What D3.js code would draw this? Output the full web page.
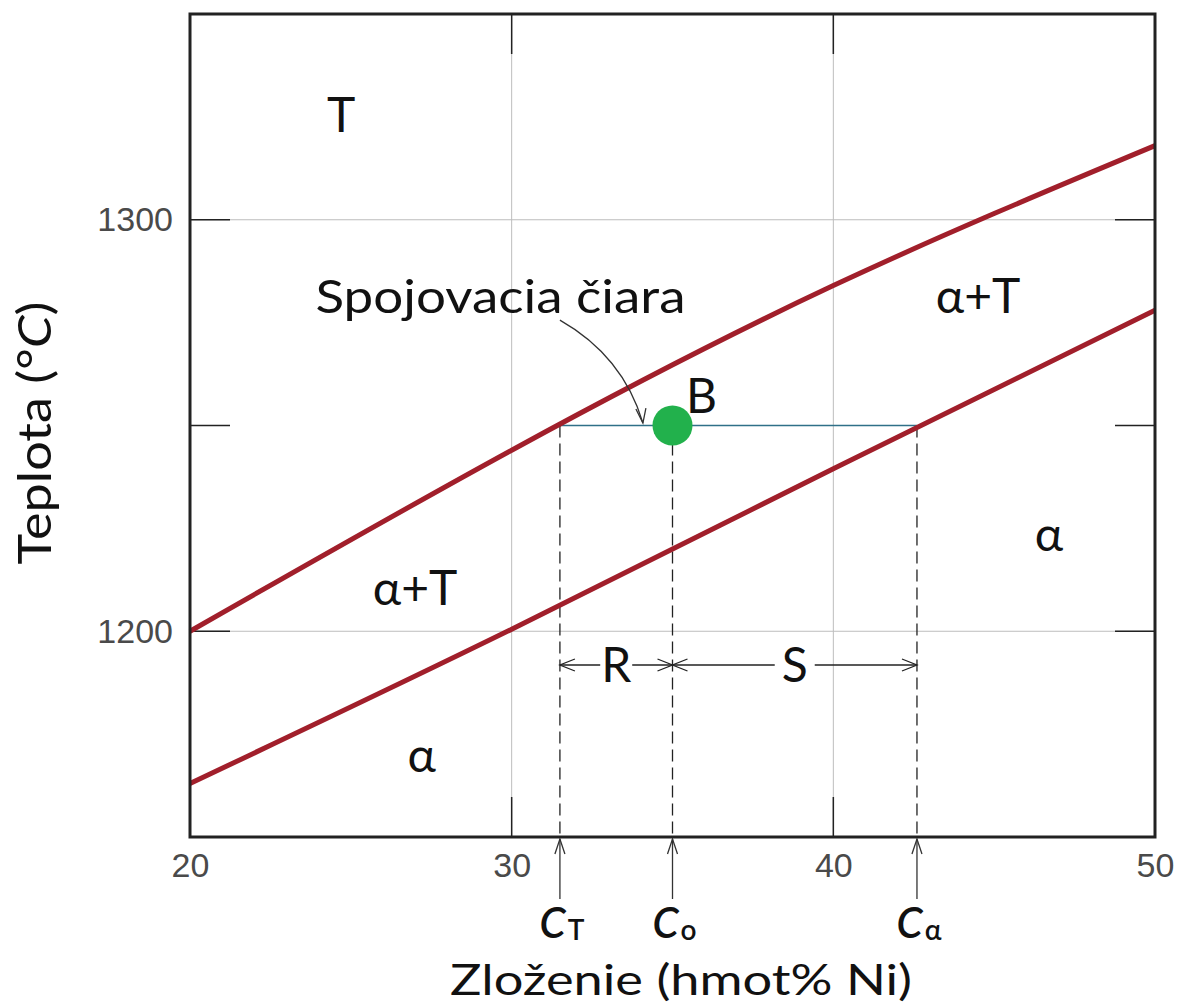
<!DOCTYPE html>
<html>
<head>
<meta charset="utf-8">
<script src="https://d3js.org/d3.v7.min.js"></script>
<style>
  body { margin: 0; background: #fff; }
  svg { display: block; }
  .lbl { font-family: "Lato", "Noto Sans", sans-serif; fill: #111; }
  .tick text { font-family: "Liberation Sans", Arial, sans-serif; fill: #4a4a4a; }
</style>
</head>
<body>
<div id="chart"></div>
<script>
  // DATA
  const compPoints = [20, 30, 40, 50];
  const liquidus = [1200, 1244, 1284, 1318];
  const solidus = [1163, 1200.5, 1239.5, 1278];

  const xTicks = [20, 30, 40, 50];
  const yTicks = [1200, 1300];
  const innerYTicks = [1200, 1250, 1300];
  const innerXTicks = [30, 40];

  const tieTemp = 1250;
  const cT = 31.5, c0 = 35, cA = 42.6;
  const rsTemp = 1191.8; // level of the R / S arrows

  const regions = [
    { text: "T", c: 24.7, t: 1321.3 },
    { text: "α+T", c: 44.5, t: 1277.3 },
    { text: "α+T", c: 27.0, t: 1206.4 },
    { text: "α", c: 27.2, t: 1165.8 },
    { text: "α", c: 46.7, t: 1219.5 },
    { text: "B", c: 35.9, t: 1253 }
  ];

  const markers = [
    { c: cT, main: "C", sub: "T" },
    { c: c0, main: "C", sub: "o" },
    { c: cA, main: "C", sub: "α" }
  ];

  // curved pointer from the tie-line caption: start, control, end
  const pointer = [[31.5, 1275.6], [33.46, 1266.9], [34.08, 1250.6]];

  // LAYOUT
  const W = 1182, H = 1005;
  const margin = { top: 14, right: 27, bottom: 168, left: 190 };
  const width = W - margin.left - margin.right;
  const height = H - margin.top - margin.bottom;

  const svg = d3.select("#chart").append("svg")
    .attr("width", W).attr("height", H);

  const g = svg.append("g")
    .attr("transform", "translate(" + margin.left + "," + margin.top + ")");

  const x = d3.scaleLinear().domain([20, 50]).range([0, width]);
  const y = d3.scaleLinear().domain([1150, 1350]).range([height, 0]);

  // GRID
  g.selectAll(".gx").data(innerXTicks).enter().append("line")
    .attr("x1", d => x(d)).attr("x2", d => x(d))
    .attr("y1", 0).attr("y2", height)
    .attr("stroke", "#bdbdbd").attr("stroke-width", 1);
  g.selectAll(".gy").data(yTicks).enter().append("line")
    .attr("x1", 0).attr("x2", width)
    .attr("y1", d => y(d)).attr("y2", d => y(d))
    .attr("stroke", "#bdbdbd").attr("stroke-width", 1);

  // inner black ticks on all four sides
  const tl = 40;
  innerYTicks.forEach(t => {
    g.append("line").attr("x1", 0).attr("x2", tl).attr("y1", y(t)).attr("y2", y(t))
      .attr("stroke", "#222").attr("stroke-width", 1.5);
    g.append("line").attr("x1", width - tl).attr("x2", width).attr("y1", y(t)).attr("y2", y(t))
      .attr("stroke", "#222").attr("stroke-width", 1.5);
  });
  innerXTicks.forEach(c => {
    g.append("line").attr("x1", x(c)).attr("x2", x(c)).attr("y1", 0).attr("y2", tl)
      .attr("stroke", "#222").attr("stroke-width", 1.5);
    g.append("line").attr("x1", x(c)).attr("x2", x(c)).attr("y1", height - tl).attr("y2", height)
      .attr("stroke", "#222").attr("stroke-width", 1.5);
  });

  // AXES (labels only)
  const xAxis = g.append("g")
    .attr("transform", "translate(0," + height + ")")
    .call(d3.axisBottom(x).tickValues(xTicks).tickFormat(d3.format("d")).tickSize(0).tickPadding(16));
  const yAxis = g.append("g")
    .call(d3.axisLeft(y).tickValues(yTicks).tickFormat(d3.format("d")).tickSize(0).tickPadding(17));
  [xAxis, yAxis].forEach(a => {
    a.select(".domain").remove();
    a.selectAll("text").style("font-size", "34px");
  });

  // TIE LINE + DASHED DROPS
  g.append("line")
    .attr("x1", x(cT)).attr("x2", x(cA))
    .attr("y1", y(tieTemp)).attr("y2", y(tieTemp))
    .attr("stroke", "#2f7088").attr("stroke-width", 1.5);

  g.selectAll(".drop").data(markers).enter().append("line")
    .attr("x1", d => x(d.c)).attr("x2", d => x(d.c))
    .attr("y1", y(tieTemp)).attr("y2", height)
    .attr("stroke", "#222").attr("stroke-width", 1.3)
    .attr("stroke-dasharray", "12,6");

  // PHASE BOUNDARIES
  const line = d3.line()
    .x((d, i) => x(compPoints[i]))
    .y(d => y(d))
    .curve(d3.curveNatural);

  [liquidus, solidus].forEach(s => {
    g.append("path")
      .attr("d", line(s))
      .attr("fill", "none")
      .attr("stroke", "#a11f2b")
      .attr("stroke-width", 5)
      .attr("stroke-linecap", "butt");
  });

  // point B
  g.append("circle")
    .attr("cx", x(c0)).attr("cy", y(tieTemp)).attr("r", 20)
    .attr("fill", "#22b14c");

  // R / S dimension arrows
  function openHead(px, py, dir) {
    // dir = -1 points left, +1 points right
    g.append("path")
      .attr("d", "M" + (px - dir * 15) + "," + (py - 6) + "L" + px + "," + py + "L" + (px - dir * 15) + "," + (py + 6))
      .attr("fill", "none").attr("stroke", "#222").attr("stroke-width", 1.3);
  }
  function dimension(c1, c2, label, gap) {
    const y0 = y(rsTemp), xa = x(c1), xb = x(c2), xm = (xa + xb) / 2;
    g.append("line").attr("x1", xa).attr("x2", xm - gap).attr("y1", y0).attr("y2", y0)
      .attr("stroke", "#222").attr("stroke-width", 1.3);
    g.append("line").attr("x1", xm + gap).attr("x2", xb).attr("y1", y0).attr("y2", y0)
      .attr("stroke", "#222").attr("stroke-width", 1.3);
    openHead(xa, y0, -1);
    openHead(xb, y0, 1);
    g.append("text").attr("class", "lbl")
      .attr("x", xm).attr("y", y0 + 17)
      .attr("text-anchor", "middle")
      .style("font-size", "48px")
      .text(label);
  }
  dimension(cT, c0, "R", 16);
  dimension(c0, cA, "S", 20);

  // region labels
  g.selectAll(".region").data(regions).enter().append("text")
    .attr("class", "lbl")
    .attr("x", d => x(d.c)).attr("y", d => y(d.t))
    .attr("text-anchor", "middle")
    .style("font-size", "48px")
    .text(d => d.text);

  // tie-line caption + curved pointer
  g.append("text").attr("class", "lbl")
    .attr("x", x(23.9)).attr("y", y(1277.3))
    .attr("textLength", 370).attr("lengthAdjust", "spacingAndGlyphs")
    .style("font-size", "46px")
    .text("Spojovacia čiara");

  const p = pointer.map(d => [x(d[0]), y(d[1])]);
  g.append("path")
    .attr("d", "M" + p[0] + "Q" + p[1] + " " + p[2])
    .attr("fill", "none").attr("stroke", "#333").attr("stroke-width", 1.3);
  g.append("path")
    .attr("d", "M" + (p[2][0] - 7) + "," + (p[2][1] - 14) + "L" + p[2][0] + "," + p[2][1] + "L" + (p[2][0] + 3) + "," + (p[2][1] - 15))
    .attr("fill", "none").attr("stroke", "#333").attr("stroke-width", 1.3);

  // arrows under the axis + C labels
  markers.forEach(m => {
    const mx = x(m.c);
    g.append("line").attr("x1", mx).attr("x2", mx)
      .attr("y1", height + 2).attr("y2", height + 62)
      .attr("stroke", "#333").attr("stroke-width", 1.3);
    g.append("path")
      .attr("d", "M" + (mx - 5) + "," + (height + 17) + "L" + mx + "," + (height + 2) + "L" + (mx + 5) + "," + (height + 17))
      .attr("fill", "none").attr("stroke", "#333").attr("stroke-width", 1.3);
    const t = g.append("text").attr("class", "lbl")
      .attr("x", mx + 2).attr("y", height + 101)
      .attr("text-anchor", "middle");
    t.append("tspan").style("font-size", "42px").style("font-style", "italic").style("font-weight", "600").text(m.main);
    t.append("tspan").style("font-size", "28px").style("font-weight", "600").attr("dx", 2).attr("dy", 2).text(m.sub);
  });

  // axis titles
  svg.append("text").attr("class", "lbl")
    .attr("x", 681).attr("y", 995)
    .attr("text-anchor", "middle")
    .attr("textLength", 462).attr("lengthAdjust", "spacingAndGlyphs")
    .style("font-size", "42px")
    .text("Zloženie (hmot% Ni)");

  const yt = svg.append("text").attr("class", "lbl")
    .attr("transform", "translate(51,433) rotate(-90)")
    .attr("text-anchor", "middle")
    .attr("textLength", 263).attr("lengthAdjust", "spacingAndGlyphs")
    .style("font-size", "46px");
  yt.append("tspan").text("Teplota (°");
  yt.append("tspan").style("font-style", "italic").text("C");
  yt.append("tspan").text(")");

  // frame
  g.append("rect")
    .attr("x", 0).attr("y", 0).attr("width", width).attr("height", height)
    .attr("fill", "none").attr("stroke", "#222").attr("stroke-width", 3);
</script>
</body>
</html>
